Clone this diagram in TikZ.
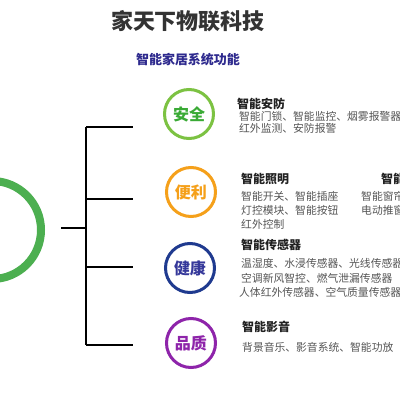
\documentclass[tikz,border=0pt]{standalone}
\usepackage{fontspec}
\setmainfont{Noto Sans CJK SC}
\definecolor{hubgreen}{HTML}{4CAF50}
\definecolor{safering}{HTML}{7CC242}
\definecolor{safetext}{HTML}{3AAA35}
\definecolor{convorange}{HTML}{F5A01A}
\definecolor{healthblue}{HTML}{1F3A8F}
\definecolor{healthtext}{HTML}{35389A}
\definecolor{qualpurple}{HTML}{8E24AA}
\definecolor{subblue}{HTML}{2E2A8E}
\definecolor{titlegray}{HTML}{333333}
\definecolor{headgray}{HTML}{222222}
\definecolor{itemgray}{HTML}{555555}
\tikzset{
  badge/.style={circle, line width=3pt, minimum size=49pt, inner sep=0pt, font=\fontsize{16}{16}\selectfont\bfseries},
  headtext/.style={anchor=west, inner sep=0pt, text=headgray, font=\fontsize{12}{12}\selectfont\bfseries},
  itemtext/.style={anchor=west, inner sep=0pt, text=itemgray, font=\fontsize{10.8}{10.8}\selectfont},
  bracket/.style={line width=1.2pt, black},
}
\begin{document}
\begin{tikzpicture}[x=1pt,y=-1pt]
\useasboundingbox (0,0) rectangle (400,400);
\clip (0,0) rectangle (400,400);
\fill[white] (0,0) rectangle (400,400);
% titles
\node[inner sep=0pt, text=titlegray, font=\fontsize{22}{22}\selectfont\bfseries] (title) at (188,21) {家天下物联科技};
\node[inner sep=0pt, text=subblue, font=\fontsize{13}{13}\selectfont\bfseries] (subtitle) at (188,60) {智能家居系统功能};
% hub circle
\node[circle, draw=hubgreen, line width=8pt, minimum size=98pt, inner sep=0pt] (hub) at (-8,230) {};
% bracket
\coordinate (stubL) at (61,228);
\coordinate (stubR) at (86,228);
\coordinate (b1) at (86,127);
\coordinate (b2) at (86,199);
\coordinate (b3) at (86,267);
\coordinate (b4) at (86,345);
\coordinate (e1) at (133,127);
\coordinate (e2) at (133,199);
\coordinate (e3) at (133,267);
\coordinate (e4) at (133,345);
\draw[bracket] (stubL) -- (stubR);
\draw[bracket] (b1) -- (b4);
\draw[bracket] (b1) -- (e1);
\draw[bracket] (b2) -- (e2);
\draw[bracket] (b3) -- (e3);
\draw[bracket] (b4) -- (e4);
% badges
\node[badge, draw=safering, text=safetext] (safe) at (189,114) {安全};
\node[badge, draw=convorange, text=convorange] (conv) at (191,192) {便利};
\node[badge, draw=healthblue, text=healthtext] (health) at (190,268) {健康};
\node[badge, draw=qualpurple, text=qualpurple] (qual) at (191,343) {品质};
% safety
\node[headtext] (h1) at (237,104) {智能安防};
\node[itemtext] (s1) at (239,116) {智能门锁、智能监控、烟雾报警器};
\node[itemtext] (s2) at (239,128) {红外监测、安防报警};
% convenience
\node[headtext] (h2) at (241,179) {智能照明};
\node[itemtext] (c1) at (241,196) {智能开关、智能插座};
\node[itemtext] (c2) at (241,210) {灯控模块、智能按钮};
\node[itemtext] (c3) at (241,224) {红外控制};
\node[headtext] (h2b) at (381,179) {智能窗帘};
\node[itemtext] (c4) at (361,196) {智能窗帘、};
\node[itemtext] (c5) at (361,210) {电动推窗};
% health
\node[headtext] (h3) at (241,245) {智能传感器};
\node[itemtext] (t1) at (241,263) {温湿度、水浸传感器、光线传感器};
\node[itemtext] (t2) at (241,278) {空调新风智控、燃气泄漏传感器};
\node[itemtext] (t3) at (239,292) {人体红外传感器、空气质量传感器};
% quality
\node[headtext] (h4) at (242,327) {智能影音};
\node[itemtext] (q1) at (242,347) {背景音乐、影音系统、智能功放};
\end{tikzpicture}
\end{document}
